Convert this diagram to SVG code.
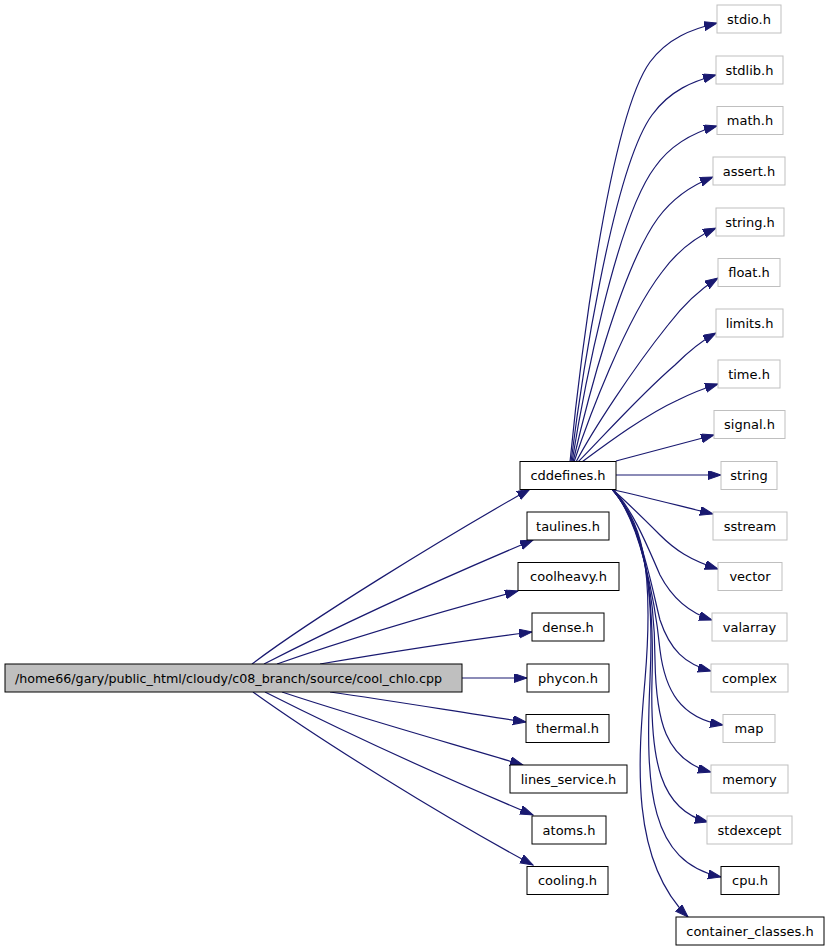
<svg xmlns="http://www.w3.org/2000/svg" width="829" height="949" viewBox="0 0 829 949">
<defs>
<marker id="ah" markerUnits="userSpaceOnUse" markerWidth="14" markerHeight="10" refX="13" refY="4.5" orient="auto" viewBox="0 0 14 10">
<path d="M0,0 L13,4.5 L0,9 z" fill="#191970" stroke="#191970" stroke-width="1"/>
</marker>
<style>
.n rect{fill:#ffffff;stroke:#000000;stroke-width:1}
.g rect{fill:#ffffff;stroke:#bfbfbf;stroke-width:1}
.m rect{fill:#bfbfbf;stroke:#000000;stroke-width:1}
text{font-family:"DejaVu Sans","Noto Sans",sans-serif;font-size:13px;fill:#000000;text-anchor:middle}
#edges path{fill:none;stroke:#191970;stroke-width:1.2;marker-end:url(#ah)}
</style>
</defs>
<rect width="829" height="949" fill="#ffffff"/>
<g id="edges">
<path d="M570,462 C578,380 608,120 650,62 C668,38 692,29 717,23"/>
<path d="M571,462 C580,390 612,170 652,115 C670,90 694,81 716,75"/>
<path d="M572,462 C582,400 615,220 655,167 C672,143 695,132 717,126"/>
<path d="M573,462 C585,410 620,270 658,218 C675,195 695,184 713,177"/>
<path d="M574,462 C588,420 625,320 662,272 C678,250 698,236 716,228"/>
<path d="M576,462 C593,430 632,370 668,325 C684,304 702,288 718,278"/>
<path d="M578,462 C600,440 640,395 675,365 C690,350 705,339 716,333"/>
<path d="M582,462 C605,445 645,415 678,400 C690,394 705,388 718,384"/>
<path d="M616,461 C650,452 685,443 714,435"/>
<path d="M616,475 L721,475"/>
<path d="M610,489 C645,497 680,506 713,514"/>
<path d="M612,489 C630,505 645,520 660,535 C675,550 690,560 718,569"/>
<path d="M612,489 C630,505 645,540 660,575 C673,600 690,613 712,620"/>
<path d="M612,489 C640,520 650,580 660,620 C670,650 685,664 711,671"/>
<path d="M612,489 C640,520 655,600 660,650 C665,690 680,718 723,725"/>
<path d="M612,489 C640,520 655,590 655,660 C656,720 665,760 711,772"/>
<path d="M612,489 C640,520 655,580 652,680 C650,760 660,810 708,822"/>
<path d="M612,489 C640,520 655,570 650,680 C645,790 650,862 721,877"/>
<path d="M612,489 C640,520 655,560 645,680 C638,760 630,860 688,917"/>
<path d="M252,664 C310,620 440,540 530,489"/>
<path d="M264,664 C350,620 450,575 533,540"/>
<path d="M277,664 C360,635 440,612 518,591"/>
<path d="M320,664 C390,652 460,641 532,632"/>
<path d="M462,678 L527,678"/>
<path d="M330,692 C400,702 465,713 526,722"/>
<path d="M282,692 C360,718 450,743 523,765"/>
<path d="M265,692 C350,735 450,780 533,815"/>
<path d="M253,692 C320,740 440,815 533,865"/>
</g>
<g id="main" class="m"><rect x="5" y="664" width="457" height="28"/><text x="228.5" y="682.5" style="font-size:12.7px">/home66/gary/public_html/cloudy/c08_branch/source/cool_chlo.cpp</text></g>
<g id="cddefines" class="n"><rect x="520" y="461.5" width="96" height="28"/><text x="568" y="480">cddefines.h</text></g>
<g id="taulines" class="n"><rect x="527" y="512" width="82" height="28"/><text x="568" y="530.5">taulines.h</text></g>
<g id="coolheavy" class="n"><rect x="518" y="562.5" width="101" height="28"/><text x="568.5" y="581">coolheavy.h</text></g>
<g id="dense" class="n"><rect x="532" y="613" width="72" height="28"/><text x="568" y="631.5">dense.h</text></g>
<g id="phycon" class="n"><rect x="527" y="664" width="82" height="28"/><text x="568" y="682.5">phycon.h</text></g>
<g id="thermal" class="n"><rect x="526" y="714.5" width="83" height="28"/><text x="567.5" y="733">thermal.h</text></g>
<g id="lines_service" class="n"><rect x="510" y="765" width="117" height="28"/><text x="568.5" y="783.5">lines_service.h</text></g>
<g id="atoms" class="n"><rect x="532" y="816" width="74" height="28"/><text x="569" y="834.5">atoms.h</text></g>
<g id="cooling" class="n"><rect x="527" y="866.5" width="81" height="28"/><text x="567.5" y="885">cooling.h</text></g>
<g id="stdio" class="g"><rect x="717" y="5" width="64" height="28"/><text x="749" y="23.5">stdio.h</text></g>
<g id="stdlib" class="g"><rect x="716" y="56" width="67" height="28"/><text x="749.5" y="74.5">stdlib.h</text></g>
<g id="math" class="g"><rect x="717" y="106.5" width="66" height="28"/><text x="750" y="125">math.h</text></g>
<g id="assert" class="g"><rect x="713" y="157" width="72" height="28"/><text x="749" y="175.5">assert.h</text></g>
<g id="string_h" class="g"><rect x="716" y="208" width="68" height="28"/><text x="750" y="226.5">string.h</text></g>
<g id="float" class="g"><rect x="718" y="258.5" width="62" height="28"/><text x="749" y="277">float.h</text></g>
<g id="limits" class="g"><rect x="716" y="309" width="67" height="28"/><text x="749.5" y="327.5">limits.h</text></g>
<g id="time" class="g"><rect x="718" y="360" width="62" height="28"/><text x="749" y="378.5">time.h</text></g>
<g id="signal" class="g"><rect x="714" y="410.5" width="71" height="28"/><text x="749.5" y="429">signal.h</text></g>
<g id="string" class="g"><rect x="721" y="461.5" width="56" height="28"/><text x="749" y="480">string</text></g>
<g id="sstream" class="g"><rect x="713" y="512" width="74" height="28"/><text x="750" y="530.5">sstream</text></g>
<g id="vector" class="g"><rect x="718" y="562.5" width="64" height="28"/><text x="750" y="581">vector</text></g>
<g id="valarray" class="g"><rect x="712" y="613" width="75" height="28"/><text x="749.5" y="631.5">valarray</text></g>
<g id="complex" class="g"><rect x="711" y="664" width="77" height="28"/><text x="749.5" y="682.5">complex</text></g>
<g id="map" class="g"><rect x="723" y="714.5" width="52" height="28"/><text x="749" y="733">map</text></g>
<g id="memory" class="g"><rect x="711" y="765" width="77" height="28"/><text x="749.5" y="783.5">memory</text></g>
<g id="stdexcept" class="g"><rect x="707" y="816" width="85" height="28"/><text x="749.5" y="834.5">stdexcept</text></g>
<g id="cpu" class="n"><rect x="721" y="866.5" width="58" height="28"/><text x="750" y="885">cpu.h</text></g>
<g id="container_classes" class="n"><rect x="676" y="917" width="148" height="28"/><text x="750" y="935.5">container_classes.h</text></g>
</svg>
